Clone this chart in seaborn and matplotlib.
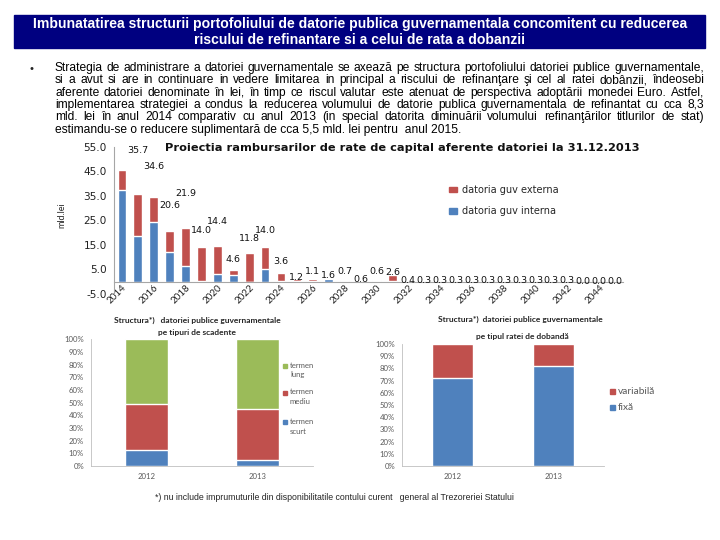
import matplotlib
matplotlib.use("Agg")
import matplotlib.pyplot as plt
from matplotlib import font_manager
from matplotlib.patches import Rectangle, Patch
import pandas as pd
import seaborn as sns

# date grafic principal (mld. lei)
ani = [str(a) for a in range(2014, 2046)]
interna = [37.4, 18.5, 24.2, 12.3, 6.3, 0.4, 3.3, 2.8, 0.0, 5.3, 0.1, 0.3, 0.1, 1.3, 0.3, 0.1,
           0.4, 0.1, 0.2, 0.1, 0.1, 0.1, 0.1, 0.1, 0.1, 0.1, 0.1, 0.1, 0.1, 0.0, 0.0, 0.0]
externa = [8.0, 17.2, 10.4, 8.3, 15.6, 13.6, 11.1, 1.8, 11.8, 8.7, 3.5, 0.9, 1.0, 0.3, 0.4, 0.5,
           0.2, 2.5, 0.2, 0.2, 0.2, 0.2, 0.2, 0.2, 0.2, 0.2, 0.2, 0.2, 0.2, 0.0, 0.0, 0.0]

# structura datoriei (%)
ani_struct = ["2012", "2013"]
termen_scurt = [13.0, 4.5]
termen_mediu = [36.0, 40.5]
termen_lung = [51.0, 55.0]
rata_fixa = [72.0, 82.0]
rata_variabila = [28.0, 18.0]

BLUE = "#4F81BD"
RED = "#C0504D"
GREEN = "#9BBB59"
GRAY = "#595959"

sns.set_style("white")
plt.rcParams["font.family"] = ["DejaVu Sans"]
fonturi = {f.name for f in font_manager.fontManager.ttflist}
NARROW = "Liberation Sans Narrow" if "Liberation Sans Narrow" in fonturi else "Liberation Sans"

fig = plt.figure(figsize=(7.2, 5.4), dpi=100)
W, H = 720.0, 540.0
rend = fig.canvas.get_renderer()


def fx(px):
    return px / W


def fy(py):
    return 1 - py / H


def potriveste(t, latime_px):
    # scaleaza fontul ca textul sa aiba latimea din imagine
    w = t.get_window_extent(rend).width
    t.set_fontsize(t.get_fontsize() * latime_px / w)
    return t.get_fontsize()


# ---- caseta titlu
fig.patches.append(Rectangle((fx(14), fy(48)), fx(705 - 14), (48 - 15) / H,
                             transform=fig.transFigure, color="#000080", zorder=0))
titlu = ["Imbunatatirea structurii portofoliului de datorie publica guvernamentala concomitent cu reducerea",
         "riscului de refinantare si a celui de rata a dobanzii"]
t1 = fig.text(0.5, fy(24), titlu[0], ha="center", va="center", color="white",
              family=NARROW, fontweight="bold", fontsize=10)
fs = potriveste(t1, 655)
fig.text(0.5, fy(40), titlu[1], ha="center", va="center", color="white",
         family=NARROW, fontweight="bold", fontsize=fs)

# ---- paragraf justificat
paragraf = [
    "Strategia de administrare a datoriei guvernamentale se axează pe structura portofoliului datoriei publice guvernamentale,",
    "si a avut si are in continuare in vedere limitarea in principal a riscului de refinanţare şi cel al ratei dobânzii, îndeosebi",
    "aferente datoriei denominate în lei, în timp ce riscul valutar este atenuat de perspectiva adoptării monedei Euro. Astfel,",
    "implementarea strategiei a condus la reducerea volumului de datorie publica guvernamentala de refinantat cu cca 8,3",
    "mld.  lei în anul 2014 comparativ cu anul 2013 (in special datorita diminuării volumului refinanţărilor titlurilor de stat)",
    "estimandu-se o reducere suplimentară de cca 5,5 mld. lei pentru  anul 2015.",
]
fig.text(fx(30), fy(69), "•", fontsize=8, family="Liberation Sans", va="center")
latimi = []
for linie in paragraf:
    tmp = fig.text(0, 0, linie, fontsize=8, family="Liberation Sans")
    latimi.append(tmp.get_window_extent(rend).width)
    tmp.remove()
fs_p = 8 * 648 / max(latimi)
kw = dict(fontsize=fs_p, family="Liberation Sans", va="center", color="black")
x0, x1 = fx(55), fx(704)
for i, linie in enumerate(paragraf):
    y = fy(68 + i * 12.3)
    if i == len(paragraf) - 1:
        fig.text(x0, y, linie, **kw)
        continue
    cuvinte = linie.split()
    arts = [fig.text(0, y, c, **kw) for c in cuvinte]
    lat = [a.get_window_extent(rend).width / W for a in arts]
    gap = max((x1 - x0 - sum(lat)) / (len(cuvinte) - 1), 2 / W)
    x = x0
    for a, w in zip(arts, lat):
        a.set_x(x)
        x += w + gap

# ---- grafic principal
df = pd.DataFrame({"an": ani, "interna": interna, "externa": externa})
df["total"] = df["interna"] + df["externa"]

ax = fig.add_axes([fx(114), fy(294), fx(623 - 114), (294 - 146.7) / H])
sns.barplot(data=df, x="an", y="total", color=RED, saturation=1, width=0.55, ax=ax)
sns.barplot(data=df, x="an", y="interna", color=BLUE, saturation=1, width=0.55, ax=ax)
ax.set_xlim(-0.5, len(ani) - 0.5)
ax.set_ylim(-5, 55)
ax.set_yticks(range(-5, 56, 10))
ax.set_yticklabels([f"{v:.1f}" for v in range(-5, 56, 10)], fontsize=7.6, color="#222222")
ax.set_xlabel("")
ax.set_ylabel("")
ax.spines["top"].set_visible(False)
ax.spines["right"].set_visible(False)
ax.spines["left"].set_color("#A6A6A6")
ax.spines["bottom"].set_position(("data", 0))
ax.spines["bottom"].set_color("#A6A6A6")
ax.tick_params(axis="y", length=3, color="#A6A6A6", pad=2)
ax.tick_params(axis="x", length=0, pad=1)
ax.set_xticks(range(0, len(ani), 2))
ax.set_xticklabels(ani[::2], rotation=45, ha="right", rotation_mode="anchor",
                   fontsize=7, family="Lato", color="#222222")

# etichete totaluri, asezate ca in Excel (deasupra, cu evitarea suprapunerilor)
tot = df["total"].round(1).tolist()
prev = None
for i, v in enumerate(tot):
    if v >= 3:
        yl = v + max(0.5 * v, 4.5)
        if prev is not None and abs(yl - prev[0]) < 3:
            yl = yl - 5 if v < prev[1] else yl + 3
    else:
        yl = 1.5 * v
        if v < 1.5 and i % 2 == 0 and i + 1 < len(tot) and tot[i + 1] >= 0.5:
            yl = 4.3
    prev = (yl, v)
    if yl > 55:
        continue
    ax.text(i, yl, f"{v:.1f}", ha="center", va="center", fontsize=6.8,
            color="#111111", clip_on=False)

tp = fig.text(fx(165), fy(148), "Proiectia rambursarilor de rate de capital aferente datoriei la 31.12.2013",
              fontsize=7, fontweight="bold", va="center", color="#111111")
potriveste(tp, 473)
fig.text(fx(62), fy(215), "mld.lei", rotation=90, fontsize=6.5, va="center", ha="center",
         family="Lato")
ax.legend(handles=[Patch(color=RED, label="datoria guv externa"),
                   Patch(color=BLUE, label="datoria guv interna")],
          loc="upper left", bbox_to_anchor=(fx(440), fy(176)), bbox_transform=fig.transFigure,
          frameon=False, fontsize=7, handlelength=0.8, handleheight=0.45,
          handletextpad=0.6, labelspacing=1.2)


# ---- grafice structura
def grafic_structura(rect, straturi, culori, bw):
    a = fig.add_axes(rect)
    d = pd.DataFrame({"an": ani_struct})
    cum = [0.0, 0.0]
    cumuri = []
    for s in straturi:
        cum = [c + v for c, v in zip(cum, s)]
        cumuri.append(cum)
    for c, col in reversed(list(zip(cumuri, culori))):
        d["v"] = c
        sns.barplot(data=d, x="an", y="v", color=col, saturation=1, width=bw, ax=a)
    a.set_xlim(-0.5, 1.5)
    a.set_ylim(0, 100)
    a.set_yticks(range(0, 101, 10))
    a.set_yticklabels([f"{v}%" for v in range(0, 101, 10)], fontsize=5.6,
                      family="Lato", color=GRAY)
    a.set_xticks([0, 1])
    a.set_xticklabels(ani_struct, fontsize=5.6, family="Lato", color=GRAY)
    a.set_xticks([-0.5, 0.5, 1.5], minor=True)
    a.tick_params(axis="x", which="major", length=0, pad=5)
    a.tick_params(axis="x", which="minor", length=3, color="#BFBFBF")
    a.tick_params(axis="y", length=3, color="#BFBFBF", pad=2)
    a.set_xlabel("")
    a.set_ylabel("")
    for sp in ["top", "right"]:
        a.spines[sp].set_visible(False)
    for sp in ["left", "bottom"]:
        a.spines[sp].set_color("#BFBFBF")
        a.spines[sp].set_linewidth(0.6)
    return a


ax2 = grafic_structura([fx(91), fy(466), fx(313 - 91), (466 - 339.3) / H],
                       [termen_scurt, termen_mediu, termen_lung], [BLUE, RED, GREEN], 0.39)
fig.text(fx(197), fy(320), "Structura*)   datoriei publice guvernamentale", ha="center",
         va="center", fontsize=6, fontweight="bold", family="Lato")
fig.text(fx(197), fy(333), "pe tipuri de scadente", ha="center", va="center",
         fontsize=6, fontweight="bold", family="Lato")
for lab, col, yy in [("termen\nlung", GREEN, 370), ("termen\nmediu", RED, 397),
                     ("termen\nscurt", BLUE, 426)]:
    fig.patches.append(Rectangle((fx(283), fy(yy - 2)), fx(4), 4 / H, color=col,
                                 transform=fig.transFigure))
    fig.text(fx(290), fy(yy), lab, fontsize=5.6, family="Lato", color=GRAY, va="center",
             linespacing=1.5)

ax3 = grafic_structura([fx(402), fy(466), fx(604 - 402), (466 - 344) / H],
                       [rata_fixa, rata_variabila], [BLUE, RED], 0.4)
fig.text(fx(520), fy(319), "Structura*)  datoriei publice guvernamentale", ha="center",
         va="center", fontsize=6, fontweight="bold", family="Lato")
fig.text(fx(522), fy(337), "pe tipul ratei de dobandă", ha="center", va="center",
         fontsize=6, fontweight="bold", family="Lato")
for lab, col, yy in [("variabilă", RED, 392), ("fixă", BLUE, 408)]:
    fig.patches.append(Rectangle((fx(610), fy(yy + 2)), fx(5), 5 / H, color=col,
                                 transform=fig.transFigure))
    fig.text(fx(618), fy(yy), lab, fontsize=7.3, family="Lato", color=GRAY, va="center")

tn = fig.text(fx(155), fy(497),
              "*) nu include imprumuturile din disponibilitatile contului curent   general al Trezoreriei Statului",
              fontsize=6, family="Liberation Sans", va="center")
potriveste(tn, 365)

fig.savefig("out.png", dpi=100)
